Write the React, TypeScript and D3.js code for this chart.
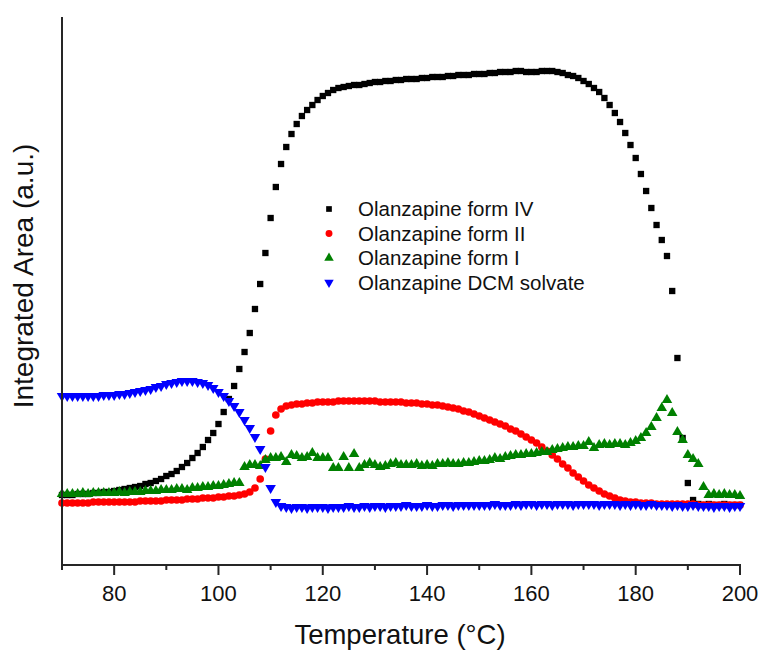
import { useEffect, useRef } from 'react';
import * as d3 from 'd3';

// temperature grid, one reading per degree
const temps = d3.range(70, 201);

const formIV = [
  70, 70, 70, 71, 71, 71, 72, 72, 73, 73,
  74, 75, 76, 77, 78, 79, 81, 82, 84, 86,
  89, 91, 94, 98, 102, 107, 112, 118, 125, 132,
  141, 153, 166, 179, 196, 213, 232, 256, 281, 312,
  347, 378, 401, 418, 431, 441, 449, 455, 460, 465,
  469, 472, 475, 477, 478, 479, 480, 480, 481, 482,
  483, 483, 484, 484, 485, 485, 486, 486, 486, 487,
  487, 488, 488, 488, 489, 489, 490, 490, 490, 491,
  491, 491, 492, 492, 493, 493, 493, 494, 494, 493,
  493, 493, 494, 494, 494, 493, 492, 490, 489, 487,
  484, 481, 477, 473, 467, 460, 452, 443, 432, 420,
  407, 391, 374, 357, 340, 325, 309, 274, 207, 127,
  82, 65, 61, 60, 61, 60, 60, 61, 60, 60,
  60,
];

const formII = [
  62, 62, 62, 62, 62, 62, 63, 63, 63, 63,
  63, 63, 63, 63, 63, 64, 64, 64, 64, 64,
  65, 65, 65, 65, 66, 66, 66, 67, 67, 67,
  68, 68, 69, 69, 70, 71, 73, 77, 86, 106,
  134, 150, 156, 159, 160, 161, 161, 162, 162, 163,
  163, 163, 163, 164, 164, 164, 164, 164, 164, 164,
  164, 163, 163, 163, 163, 163, 162, 162, 162, 161,
  161, 160, 160, 159, 158, 157, 156, 154, 153, 151,
  149, 147, 145, 143, 141, 139, 136, 134, 131, 128,
  125, 122, 118, 114, 110, 106, 101, 97, 92, 88,
  84, 80, 77, 74, 71, 69, 67, 65, 64, 63,
  63, 62, 62, 62, 61, 61, 61, 61, 61, 61,
  61, 61, 60, 60, 60, 60, 60, 60, 60, 60,
  60,
];

const formI = [
  71, 71, 71, 71, 72, 71, 72, 72, 72, 72,
  72, 73, 72, 73, 73, 73, 74, 74, 74, 75,
  75, 75, 76, 76, 75, 77, 77, 78, 78, 79,
  79, 80, 81, 82, 82, 98, 100, 100, 99, 105,
  107, 107, 108, 103, 110, 109, 107, 108, 112, 107,
  107, 107, 97, 97, 108, 97, 111, 97, 100, 102,
  100, 98, 99, 101, 102, 100, 100, 100, 101, 99,
  100, 99, 101, 101, 102, 101, 101, 102, 102, 103,
  104, 104, 105, 107, 106, 108, 109, 110, 110, 111,
  111, 112, 113, 113, 115, 116, 117, 118, 118, 119,
  119, 123, 117, 120, 121, 120, 121, 121, 120, 122,
  124, 127, 132, 138, 147, 157, 165, 152, 133, 125,
  110, 106, 101, 78, 70, 71, 70, 71, 70, 70,
  69,
];

const dcmSolvate = [
  169, 169, 169, 169, 169, 169, 169, 169, 170, 170,
  170, 171, 171, 172, 173, 174, 175, 176, 178, 179,
  181, 182, 183, 184, 184, 184, 183, 182, 180, 177,
  173, 169, 164, 159, 153, 145, 137, 128, 116, 98,
  77, 63, 59, 58, 57, 58, 58, 57, 58, 58,
  58, 57, 58, 58, 58, 59, 58, 58, 59, 58,
  59, 59, 58, 59, 59, 59, 60, 59, 59, 59,
  60, 59, 59, 60, 60, 59, 60, 60, 60, 60,
  60, 60, 60, 61, 60, 60, 60, 61, 60, 61,
  61, 60, 61, 61, 60, 61, 61, 61, 60, 61,
  61, 61, 61, 60, 61, 61, 61, 60, 61, 60,
  61, 60, 60, 61, 60, 60, 60, 59, 60, 59,
  59, 60, 59, 59, 59, 58, 59, 59, 58, 59,
  59,
];

const seriesNames = [
  'Olanzapine form IV',
  'Olanzapine form II',
  'Olanzapine form I',
  'Olanzapine DCM solvate',
];
const seriesValues = [formIV, formII, formI, dcmSolvate];
const majorTicks = [80, 100, 120, 140, 160, 180, 200];
const minorTicks = [70, 90, 110, 130, 150, 170, 190];

export default function App() {
  const svgRef = useRef<SVGSVGElement>(null);

  useEffect(() => {
    if (!svgRef.current) return;
    const svg = d3.select(svgRef.current);
    svg.selectAll('*').remove();

    const font = '"Liberation Sans", Arial, sans-serif';
    const colors = ['#000000', '#ff0000', '#008000', '#0000ff'];
    const symbols = [
      d3.symbol().type(d3.symbolSquare).size(40),
      d3.symbol().type(d3.symbolCircle).size(46),
      d3.symbol().type(d3.symbolTriangle).size(48),
      d3.symbol().type(d3.symbolTriangle).size(48),
    ];
    const rotations = [0, 0, 0, 180];

    const x = d3.scaleLinear().domain([70, 200]).range([62, 740]);
    const y = d3.scaleLinear().domain([0, 548]).range([565, 17]);

    // markers
    seriesValues.forEach((vals, si) => {
      svg.append('g')
        .selectAll('path')
        .data(vals)
        .enter().append('path')
        .attr('d', symbols[si]() as string)
        .attr('fill', colors[si])
        .attr('transform', (d, i) => `translate(${x(temps[i])},${y(d)}) rotate(${rotations[si]})`);
    });

    // axes
    const axisColor = '#262626';
    svg.append('line')
      .attr('x1', 62).attr('x2', 62)
      .attr('y1', y(548)).attr('y2', 565)
      .attr('stroke', axisColor).attr('stroke-width', 2);
    svg.append('line')
      .attr('x1', 61).attr('x2', 741)
      .attr('y1', 565).attr('y2', 565)
      .attr('stroke', axisColor).attr('stroke-width', 2);

    svg.append('g').selectAll('line')
      .data(majorTicks)
      .enter().append('line')
      .attr('x1', d => x(d)).attr('x2', d => x(d))
      .attr('y1', 565).attr('y2', 575)
      .attr('stroke', axisColor).attr('stroke-width', 2);
    svg.append('g').selectAll('line')
      .data(minorTicks)
      .enter().append('line')
      .attr('x1', d => x(d)).attr('x2', d => x(d))
      .attr('y1', 565).attr('y2', 570)
      .attr('stroke', axisColor).attr('stroke-width', 2);

    svg.append('g').selectAll('text')
      .data(majorTicks)
      .enter().append('text')
      .attr('x', d => x(d))
      .attr('y', 601)
      .attr('text-anchor', 'middle')
      .style('font-family', font)
      .style('font-size', '22px')
      .attr('fill', '#111')
      .text(d => d);

    svg.append('text')
      .attr('x', 400)
      .attr('y', 644)
      .attr('text-anchor', 'middle')
      .style('font-family', font)
      .style('font-size', '27.5px')
      .attr('fill', '#111')
      .text('Temperature (°C)');

    svg.append('text')
      .attr('transform', 'translate(33,276) rotate(-90)')
      .attr('text-anchor', 'middle')
      .style('font-family', font)
      .style('font-size', '28px')
      .attr('fill', '#111')
      .text('Integrated Area (a.u.)');

    // legend
    const legend = svg.append('g');
    const rows = legend.selectAll('g')
      .data(seriesNames)
      .enter().append('g')
      .attr('transform', (_d, i) => `translate(329,${209 + i * 24.5})`);
    rows.append('path')
      .attr('d', (_d, i) => symbols[i]() as string)
      .attr('fill', (_d, i) => colors[i])
      .attr('transform', (_d, i) => `rotate(${rotations[i]}) scale(0.9)`);
    rows.append('text')
      .attr('x', 29)
      .attr('y', 7)
      .style('font-family', font)
      .style('font-size', '20.5px')
      .attr('fill', '#111')
      .text(d => d);
  }, []);

  return (
    <svg
      ref={svgRef}
      width={761}
      height={650}
      style={{ position: 'absolute', left: 0, top: 0, background: '#fff' }}
    ></svg>
  );
}
